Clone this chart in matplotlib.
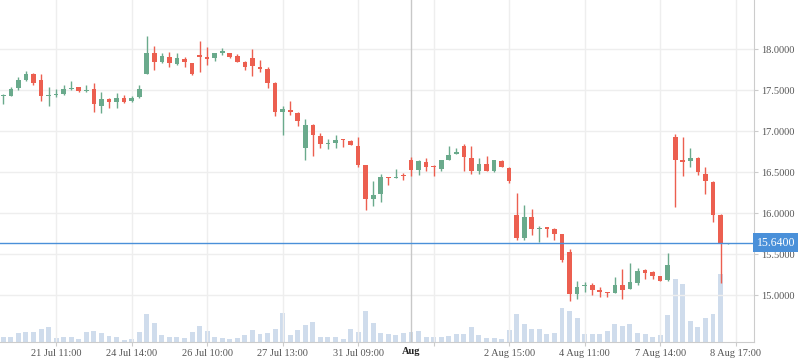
import numpy as np
import matplotlib
matplotlib.use('Agg')
import matplotlib.pyplot as plt
from matplotlib.transforms import blended_transform_factory

# hourly candles (index = position on the x axis)
opens = [17.43, 17.43, 17.53, 17.63, 17.70, 17.62, 17.43, 17.44, 17.46, 17.51,
         17.54, 17.49, 17.52, 17.31, 17.39, 17.36, 17.41, 17.37, 17.42, 17.70,
         17.96, 17.85, 17.90, 17.82, 17.88, 17.83, 17.93, 17.90, 17.89, 17.96,
         17.96, 17.92, 17.85, 17.89, 17.78, 17.76, 17.59, 17.23, 17.26, 17.22,
         16.80, 17.08, 16.94, 16.84, 16.86, 16.90, 16.88, 16.82, 16.59, 16.17,
         16.23, 16.44, 16.43, 16.46, 16.65, 16.53, 16.63, 16.57, 16.54, 16.65,
         16.72, 16.82, 16.67, 16.51, 16.60, 16.52, 16.64, 16.55, 15.98, 15.70,
         15.96, 15.81, 15.83, 15.81, 15.75, 15.53, 15.02, 15.11, 15.13, 15.07,
         15.04, 15.03, 15.13, 15.08, 15.15, 15.31, 15.28, 15.24, 15.19, 16.93,
         16.65, 16.64, 16.67, 16.48, 16.38, 15.98, 15.63]
highs = [17.45, 17.54, 17.66, 17.73, 17.71, 17.70, 17.54, 17.51, 17.57, 17.61,
         17.54, 17.56, 17.59, 17.48, 17.41, 17.47, 17.44, 17.43, 17.56, 18.16,
         18.04, 17.95, 17.97, 17.96, 17.91, 17.83, 18.10, 18.03, 17.96, 18.01,
         17.96, 17.94, 17.86, 18.00, 17.87, 17.78, 17.60, 17.31, 17.37, 17.24,
         17.15, 17.09, 16.98, 16.91, 16.96, 16.91, 16.89, 16.93, 16.59, 16.39,
         16.48, 16.44, 16.54, 16.49, 16.69, 16.65, 16.67, 16.59, 16.65, 16.82,
         16.80, 16.85, 16.82, 16.67, 16.70, 16.65, 16.65, 16.56, 16.25, 16.10,
         16.05, 15.85, 15.83, 15.82, 15.75, 15.56, 15.17, 15.16, 15.15, 15.10,
         15.04, 15.22, 15.32, 15.39, 15.33, 15.32, 15.30, 15.24, 15.52, 16.97,
         16.93, 16.80, 16.69, 16.56, 16.39, 15.99, 15.64]
lows = [17.33, 17.43, 17.50, 17.61, 17.57, 17.37, 17.31, 17.42, 17.44, 17.50,
        17.48, 17.48, 17.23, 17.22, 17.29, 17.29, 17.35, 17.36, 17.40, 17.70,
        17.75, 17.83, 17.79, 17.81, 17.79, 17.69, 17.72, 17.81, 17.86, 17.93,
        17.89, 17.85, 17.75, 17.68, 17.72, 17.53, 17.19, 16.95, 17.20, 17.07,
        16.65, 16.70, 16.80, 16.79, 16.80, 16.81, 16.83, 16.57, 16.04, 16.09,
        16.14, 16.35, 16.43, 16.41, 16.45, 16.47, 16.52, 16.46, 16.51, 16.65,
        16.72, 16.51, 16.48, 16.48, 16.51, 16.50, 16.56, 16.37, 15.68, 15.68,
        15.73, 15.65, 15.71, 15.68, 15.41, 14.93, 14.96, 15.04, 15.00, 14.98,
        14.98, 15.03, 14.96, 15.08, 15.13, 15.20, 15.20, 15.18, 15.18, 16.08,
        16.46, 16.56, 16.47, 16.24, 15.89, 15.15, 15.63]
closes = [17.44, 17.52, 17.62, 17.70, 17.59, 17.43, 17.44, 17.45, 17.52, 17.52,
          17.49, 17.50, 17.33, 17.39, 17.36, 17.41, 17.36, 17.41, 17.52, 17.96,
          17.85, 17.92, 17.83, 17.89, 17.85, 17.70, 17.90, 17.88, 17.96, 17.97,
          17.91, 17.85, 17.78, 17.80, 17.76, 17.59, 17.23, 17.27, 17.24, 17.13,
          17.08, 16.96, 16.84, 16.85, 16.89, 16.89, 16.83, 16.59, 16.17, 16.22,
          16.44, 16.43, 16.44, 16.45, 16.53, 16.64, 16.56, 16.56, 16.65, 16.71,
          16.75, 16.69, 16.51, 16.60, 16.51, 16.65, 16.56, 16.40, 15.70, 15.96,
          15.81, 15.82, 15.81, 15.75, 15.43, 15.02, 15.10, 15.12, 15.07, 15.04,
          15.03, 15.13, 15.07, 15.16, 15.30, 15.27, 15.24, 15.18, 15.37, 16.65,
          16.63, 16.67, 16.50, 16.39, 15.98, 15.63, 15.64]
# relative volume (no scale shown on the chart)
volumes = [16, 16, 28, 31, 31, 40, 46, 13, 16, 16,
           10, 31, 34, 28, 19, 16, 7, 10, 31, 85,
           58, 22, 16, 16, 13, 31, 49, 34, 16, 13,
           10, 13, 22, 37, 25, 28, 40, 88, 22, 37,
           52, 61, 16, 16, 16, 10, 40, 31, 94, 58,
           28, 25, 22, 28, 31, 34, 16, 16, 16, 19,
           25, 25, 46, 22, 13, 13, 10, 37, 85, 55,
           40, 40, 25, 28, 103, 94, 73, 25, 25, 25,
           34, 55, 49, 55, 28, 25, 16, 22, 82, 190,
           175, 64, 46, 73, 85, 205, 1]

tick_idx = [7, 17, 27, 37, 47, 57, 67, 77, 87, 97]
tick_labels = ['21 Jul 11:00', '24 Jul 14:00', '26 Jul 10:00', '27 Jul 13:00',
               '31 Jul 09:00', '', '2 Aug 15:00', '4 Aug 11:00', '7 Aug 14:00',
               '8 Aug 17:00']
aug_idx = 54.04
last_price = 15.64
price_ticks = [15.0, 15.5, 16.0, 16.5, 17.0, 17.5, 18.0]

up_col = '#6aaa8c'
down_col = '#ec5f50'
vol_col = '#cfdcec'
grid_col = '#eeeeee'
axis_col = '#cccccc'
line_col = '#4a90d9'

plt.rcParams['font.family'] = ['Liberation Serif', 'DejaVu Serif']

fig = plt.figure(figsize=(7.98, 3.63), dpi=100)
ax = fig.add_axes([0, 0.057, 754 / 798, 0.943])
ax2 = ax.twinx()

x = np.arange(len(opens))
o = np.array(opens)
c = np.array(closes)
colors = [up_col if cc >= oo else down_col for oo, cc in zip(o, c)]

# volume behind the candles
ax2.bar(x, volumes, width=0.66, color=vol_col, zorder=1)
ax2.set_ylim(0, 1027)
ax2.set_yticks([])
for s in ax2.spines.values():
    s.set_visible(False)

ax.set_zorder(ax2.get_zorder() + 1)
ax.patch.set_visible(False)

ax.vlines(x, lows, highs, colors=colors, linewidth=1.0, zorder=3)
body_h = np.maximum(np.abs(c - o), 0.014)
ax.bar(x, body_h, bottom=np.minimum(o, c), width=0.62, color=colors, zorder=4)

ax.set_xlim(-0.437, 99.43)
ax.set_ylim(14.427, 18.601)

ax.set_yticks(price_ticks)
ax.set_yticklabels(['%.4f' % p for p in price_ticks])
ax.yaxis.tick_right()
ax.set_xticks(tick_idx)
ax.set_xticklabels(tick_labels)
ax.tick_params(axis='both', length=3, color=axis_col, labelcolor='#555555',
               labelsize=7.5, pad=2)
ax.grid(True, color=grid_col, linewidth=1.0, zorder=0)
ax.set_axisbelow(True)

for side in ['top', 'left']:
    ax.spines[side].set_visible(False)
for side in ['right', 'bottom']:
    ax.spines[side].set_color(axis_col)

# month boundary
ax.axvline(aug_idx, color='#c8c8c8', linewidth=1.0, zorder=2)
ax.text(aug_idx, 14.427 - 0.06, 'Aug', ha='center', va='top',
        fontsize=7.5, fontweight='bold', color='#222222')

# last price line and tag
ax.axhline(last_price, color=line_col, linewidth=1.0, zorder=5)
tr = blended_transform_factory(ax.transAxes, ax.transData)
ax.text(1.004, last_price, '%.4f' % last_price, transform=tr, ha='left',
        va='center', fontsize=8.5, color='white', zorder=10, clip_on=False,
        bbox=dict(boxstyle='square,pad=0.3', fc=line_col, ec='none'))

fig.savefig('out.png', dpi=100)
